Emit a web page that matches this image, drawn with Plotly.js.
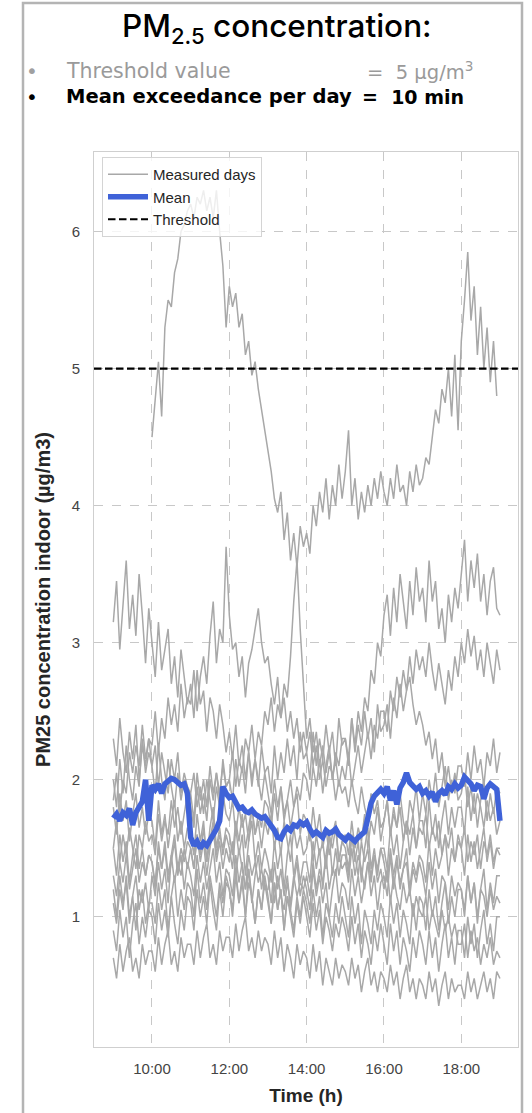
<!DOCTYPE html>
<html><head><meta charset="utf-8">
<script src="https://cdn.plot.ly/plotly-3.0.1.min.js"></script>
<style>html,body{margin:0;padding:0;background:#fff;}#chart{width:532px;height:1113px;}</style>
</head><body><div id="chart"></div>
<script>
// ---- sampling grid (one value every 5 minutes, 09:00 .. 19:00) ----
const DAY = '2024-01-01';
const startHour = 9;
const stepMin = 5;
const nPoints = 121;
const thresholdValue = 5;
const xRange = [DAY + ' 08:30:00', DAY + ' 19:28:00'];
const yRange = [0.05, 6.58];
const tickHours = ['10:00', '12:00', '14:00', '16:00', '18:00'];

// ---- measured days (µg/m3), rows = hours 9h..18h, 12 values each, then 19:00 ----
const day01 = [
 null,null,null,null,null,null,null,null,null,null,null,null,
 4.5,4.8,5.05,4.65,5.3,5.5,5.45,5.7,5.8,6.0,6.05,6.15,
 6.2,6.1,6.25,6.2,6.3,6.15,6.25,6.1,6.3,6.0,5.75,5.3,
 5.6,5.45,5.55,5.3,5.4,5.1,5.2,4.95,5.05,4.85,4.7,4.55,
 4.4,4.25,4.05,3.95,4.1,3.75,3.95,3.6,3.8,3.55,3.85,3.7,
 3.8,3.65,4.0,3.85,4.1,3.95,4.2,3.9,4.15,4.0,4.3,4.05,
 4.25,4.55,4.0,4.2,3.9,4.1,3.95,4.15,4.0,4.2,4.05,4.25,
 4.1,4.0,4.2,4.05,4.3,4.1,4.15,4.0,4.25,4.1,4.3,4.15,
 4.2,4.35,4.3,4.5,4.7,4.6,4.85,4.75,5.0,4.65,5.1,4.55,
 5.2,5.5,5.85,5.35,5.6,5.1,5.45,5.0,5.3,4.9,5.2,4.8,
 null];
const day02 = [
 3.15,3.45,2.95,3.3,3.6,3.1,3.35,3.05,3.5,3.2,2.85,3.25,
 3.0,2.75,3.15,2.8,2.95,3.1,2.7,2.9,2.6,2.95,2.75,2.55,
 2.7,2.45,2.8,2.55,2.65,2.35,2.6,2.5,2.3,2.55,2.4,2.2,
 2.35,2.15,2.4,2.1,2.25,2.0,2.2,1.95,2.15,2.0,1.85,2.05,
 1.9,1.75,2.0,1.8,1.95,1.7,1.85,1.65,1.8,1.9,1.6,1.75,
 1.7,1.55,1.8,1.6,1.75,1.5,1.65,1.45,1.6,1.7,1.4,1.55,
 1.5,1.35,1.6,1.45,1.3,1.55,1.4,1.5,1.25,1.45,1.35,1.5,
 1.4,1.25,1.5,1.3,1.45,1.2,1.35,1.4,1.15,1.35,1.25,1.4,
 1.3,1.15,1.4,1.2,1.35,1.1,1.3,1.25,1.05,1.3,1.15,1.25,
 1.2,1.05,1.3,1.1,1.25,0.95,1.2,1.15,1.0,1.2,1.05,1.15,
 1.1];
const day03 = [
 1.85,2.05,1.75,2.0,1.9,2.2,2.05,2.25,2.1,2.4,2.15,2.3,
 2.25,2.5,2.2,2.45,2.3,2.6,2.4,2.55,2.35,2.7,2.45,2.6,
 2.55,2.8,2.5,2.75,2.9,2.7,3.05,3.3,2.85,3.1,3.0,3.7,
 3.2,2.95,3.0,2.75,2.9,2.6,2.85,2.95,3.1,3.25,3.0,2.85,
 2.9,2.7,2.55,2.75,2.45,2.6,2.35,2.5,2.3,2.45,2.2,2.35,
 2.2,2.35,2.1,2.25,2.0,2.15,1.95,2.1,2.05,1.85,2.0,1.9,
 1.95,1.8,2.0,1.85,1.75,1.95,1.8,1.7,1.9,1.75,1.85,1.65,
 1.7,1.85,1.6,1.75,1.65,1.8,1.55,1.7,1.6,1.75,1.5,1.65,
 1.6,1.75,1.5,1.65,1.55,1.7,1.45,1.6,1.5,1.65,1.4,1.6,
 1.5,1.65,1.4,1.55,1.45,1.6,1.35,1.55,1.45,1.6,1.4,1.5,
 1.45];
const day04 = [
 1.3,1.15,1.4,1.25,1.45,1.2,1.35,1.5,1.25,1.4,1.3,1.45,
 1.4,1.25,1.5,1.35,1.55,1.3,1.45,1.6,1.35,1.5,1.4,1.55,
 1.5,1.35,1.6,1.45,1.65,1.4,1.55,1.7,1.45,1.6,1.5,1.65,
 1.6,1.45,1.7,1.55,1.75,1.5,1.65,1.8,1.6,1.75,1.65,1.85,
 1.8,1.65,1.9,1.7,1.95,1.75,1.85,2.0,1.8,1.95,1.85,2.05,
 2.0,1.85,2.1,1.95,2.15,1.9,2.1,2.25,2.0,2.2,2.1,2.3,
 2.3,2.15,2.45,2.25,2.5,2.35,2.6,2.5,2.8,2.7,3.0,2.9,
 3.2,3.35,3.05,3.4,3.15,3.5,3.3,3.1,3.45,3.2,3.55,3.3,
 3.4,3.15,3.6,3.3,3.45,3.1,3.25,3.0,3.35,3.15,3.4,3.25,
 3.5,3.75,3.3,3.6,3.4,3.65,3.3,3.5,3.2,3.45,3.55,3.25,
 3.2];
const day05 = [
 1.5,1.7,1.4,1.6,1.45,1.65,1.5,1.35,1.6,1.5,1.7,1.55,
 1.6,1.45,1.75,1.55,1.7,1.6,1.85,1.65,1.8,1.6,1.75,1.9,
 1.8,1.65,1.95,1.75,1.9,1.7,2.0,1.85,2.05,1.9,2.1,1.95,
 2.0,2.2,1.95,2.15,2.05,2.3,2.2,2.4,2.15,2.35,2.25,2.5,
 2.4,2.6,2.35,2.55,2.45,2.7,2.6,2.9,3.3,3.6,3.1,2.7,
 2.3,2.45,2.2,2.35,2.1,2.25,2.05,2.2,2.0,2.15,1.95,2.1,
 2.0,2.2,1.95,2.1,2.25,2.05,2.2,2.35,2.15,2.4,2.3,2.5,
 2.5,2.35,2.65,2.5,2.75,2.6,2.8,2.65,2.9,2.7,2.95,2.8,
 2.9,2.75,3.0,2.8,2.65,2.85,2.7,2.55,2.8,2.65,2.9,2.75,
 3.0,2.85,3.1,2.9,3.05,2.8,2.95,2.75,3.0,2.85,2.7,2.95,
 2.8];
const day06 = [
 2.0,1.8,2.15,1.9,2.25,2.0,1.85,2.1,1.95,2.3,2.05,2.2,
 2.1,1.9,2.25,2.0,1.85,2.15,1.95,1.8,2.05,1.85,2.0,1.75,
 1.9,1.7,2.05,1.85,2.0,1.8,2.1,1.9,2.05,1.85,2.15,1.95,
 2.0,1.85,2.15,1.95,2.1,1.9,2.2,2.0,2.15,1.95,2.25,2.05,
 2.1,1.9,2.25,2.0,2.2,2.05,2.3,2.1,2.25,2.0,2.35,2.15,
 2.2,2.0,2.35,2.1,2.3,2.15,2.4,2.2,2.35,2.1,2.45,2.25,
 2.3,2.1,2.45,2.2,2.4,2.25,2.5,2.3,2.45,2.2,2.55,2.35,
 2.4,2.55,2.3,2.6,2.45,2.7,2.5,2.65,2.75,2.55,2.4,2.5,
 2.4,2.25,2.35,2.15,2.3,2.05,2.2,1.95,2.1,1.9,2.05,1.85,
 1.9,2.05,1.8,1.95,1.75,1.9,1.8,1.65,1.85,1.7,1.8,1.6,
 1.7];
const day07 = [
 1.5,1.3,1.6,1.4,1.55,1.25,1.45,1.6,1.35,1.5,1.3,1.45,
 1.4,1.2,1.55,1.35,1.5,1.25,1.4,1.55,1.3,1.45,1.2,1.4,
 1.3,1.15,1.45,1.25,1.4,1.2,1.35,1.5,1.25,1.4,1.15,1.35,
 1.3,1.15,1.45,1.25,1.4,1.2,1.35,1.1,1.3,1.45,1.2,1.35,
 1.3,1.1,1.4,1.2,1.35,1.15,1.3,1.05,1.25,1.4,1.15,1.3,
 1.2,1.05,1.35,1.15,1.3,1.1,1.25,1.0,1.2,1.35,1.1,1.25,
 1.2,1.05,1.35,1.15,1.3,1.1,1.25,1.4,1.15,1.3,1.05,1.25,
 1.3,1.15,1.45,1.2,1.4,1.25,1.35,1.5,1.2,1.4,1.3,1.45,
 1.4,1.25,1.55,1.3,1.5,1.35,1.45,1.6,1.3,1.5,1.4,1.55,
 1.5,1.3,1.6,1.4,1.55,1.35,1.5,1.65,1.4,1.55,1.35,1.5,
 1.5];
const day08 = [
 1.2,1.0,1.3,1.1,1.25,0.95,1.15,1.3,1.05,1.2,0.95,1.1,
 1.1,0.95,1.25,1.05,1.2,0.9,1.15,1.3,1.0,1.2,1.05,1.25,
 1.2,1.0,1.35,1.1,1.25,1.05,1.3,1.15,1.0,1.25,1.1,1.3,
 1.2,1.05,1.35,1.1,1.3,1.0,1.25,1.15,0.95,1.2,1.05,1.25,
 1.1,0.95,1.25,1.05,1.2,0.9,1.15,1.05,0.9,1.15,1.0,1.2,
 1.1,0.95,1.2,1.0,1.15,0.85,1.1,1.0,0.85,1.1,0.95,1.15,
 1.0,0.85,1.15,0.95,1.1,0.8,1.05,0.95,0.8,1.05,0.9,1.1,
 1.0,0.85,1.15,0.95,1.1,0.85,1.05,0.95,0.8,1.1,0.9,1.15,
 1.1,0.9,1.2,1.0,1.15,0.9,1.1,1.25,0.95,1.15,1.0,1.2,
 1.2,1.0,1.3,1.1,1.25,1.0,1.2,1.35,1.05,1.25,1.1,1.3,
 1.3];
const day09 = [
 0.9,0.75,1.05,0.85,1.0,0.7,0.95,1.1,0.8,1.0,0.85,1.05,
 1.0,0.8,1.1,0.9,1.05,0.85,1.15,0.95,0.8,1.05,0.9,1.15,
 1.1,0.9,1.2,1.0,1.15,0.95,1.25,1.05,0.9,1.2,1.0,1.25,
 1.2,1.0,1.3,1.1,1.25,1.0,1.35,1.15,0.95,1.2,1.05,1.3,
 1.15,0.95,1.25,1.05,1.2,0.9,1.15,1.0,0.85,1.1,0.95,1.15,
 1.0,0.85,1.1,0.9,1.05,0.8,1.0,0.9,0.75,0.95,0.85,1.0,
 0.9,0.75,1.0,0.8,0.95,0.7,0.9,0.8,0.65,0.9,0.75,0.95,
 0.8,0.65,0.95,0.75,0.9,0.65,0.85,0.75,0.6,0.85,0.7,0.9,
 0.8,0.65,0.9,0.7,0.85,0.6,0.8,0.95,0.7,0.85,0.65,0.9,
 0.9,0.7,1.0,0.8,0.95,0.7,0.9,1.05,0.8,0.95,0.75,1.0,
 1.0];
const day10 = [
 0.7,0.55,0.8,0.6,0.75,0.85,0.6,0.7,0.55,0.8,0.65,0.75,
 0.75,0.6,0.85,0.65,0.8,0.9,0.65,0.75,0.6,0.85,0.7,0.8,
 0.8,0.65,0.9,0.7,0.85,0.95,0.7,0.8,0.65,0.9,0.75,0.85,
 0.85,0.7,0.95,0.75,0.9,1.0,0.75,0.85,0.7,0.9,0.75,0.85,
 0.8,0.65,0.9,0.7,0.85,0.6,0.8,0.7,0.55,0.8,0.65,0.75,
 0.7,0.55,0.8,0.6,0.75,0.5,0.7,0.6,0.5,0.7,0.55,0.65,
 0.6,0.5,0.7,0.55,0.65,0.45,0.6,0.7,0.5,0.6,0.45,0.6,
 0.55,0.45,0.65,0.5,0.6,0.4,0.55,0.65,0.45,0.55,0.4,0.55,
 0.5,0.4,0.6,0.45,0.55,0.35,0.5,0.6,0.4,0.55,0.45,0.5,
 0.5,0.4,0.6,0.45,0.55,0.4,0.5,0.6,0.45,0.55,0.4,0.6,
 0.55];
const day11 = [
 1.8,1.6,1.9,1.7,1.85,1.55,1.75,1.9,1.65,1.8,1.6,1.75,
 1.7,1.5,1.85,1.6,1.75,1.5,1.7,1.85,1.55,1.7,1.5,1.65,
 1.6,1.45,1.75,1.55,1.7,1.4,1.65,1.8,1.5,1.65,1.45,1.6,
 1.5,1.35,1.65,1.45,1.6,1.3,1.55,1.7,1.4,1.55,1.35,1.5,
 1.4,1.25,1.55,1.35,1.5,1.2,1.45,1.6,1.3,1.45,1.25,1.4,
 1.4,1.25,1.55,1.35,1.5,1.2,1.45,1.6,1.3,1.5,1.3,1.45,
 1.45,1.3,1.6,1.4,1.55,1.25,1.5,1.65,1.35,1.5,1.3,1.5,
 1.5,1.35,1.65,1.45,1.6,1.35,1.55,1.7,1.45,1.65,1.5,1.7,
 1.7,1.5,1.85,1.6,1.75,1.5,1.7,1.85,1.6,1.8,1.65,1.8,
 1.8,1.6,1.95,1.7,1.9,1.65,1.85,2.0,1.7,1.9,1.75,1.95,
 1.9];
const day12 = [
 2.3,2.1,2.45,2.2,2.05,2.35,2.15,2.4,2.0,2.25,2.1,2.3,
 2.1,2.25,1.95,2.2,2.05,1.9,2.15,2.0,2.2,1.9,2.05,1.95,
 1.9,2.05,1.8,1.95,1.75,2.0,1.85,1.7,1.95,1.8,1.9,1.75,
 1.7,1.85,1.6,1.8,1.65,1.75,1.55,1.8,1.6,1.7,1.5,1.7,
 1.6,1.75,1.5,1.65,1.45,1.7,1.55,1.4,1.65,1.5,1.6,1.45,
 1.5,1.65,1.4,1.6,1.45,1.55,1.35,1.6,1.5,1.65,1.4,1.55,
 1.6,1.45,1.7,1.5,1.65,1.55,1.75,1.5,1.7,1.6,1.8,1.55,
 1.7,1.85,1.6,1.8,1.65,1.9,1.7,1.6,1.85,1.75,1.95,1.7,
 1.9,1.75,2.0,1.85,2.05,1.8,1.95,2.1,1.85,2.0,1.9,2.1,
 2.1,1.95,2.2,2.0,2.25,2.05,2.15,1.95,2.2,2.1,2.3,2.05,
 2.2];
const day13 = [
 1.1,0.95,1.2,1.05,1.3,1.0,1.15,0.9,1.2,1.1,1.25,1.05,
 1.3,1.15,1.4,1.2,1.35,1.1,1.45,1.25,1.4,1.3,1.5,1.35,
 1.5,1.35,1.6,1.4,1.55,1.3,1.5,1.65,1.4,1.55,1.35,1.5,
 1.4,1.55,1.3,1.5,1.35,1.2,1.45,1.3,1.4,1.25,1.35,1.2,
 1.2,1.35,1.1,1.3,1.15,1.05,1.25,1.1,1.3,1.15,1.25,1.2,
 1.3,1.15,1.4,1.2,1.35,1.25,1.45,1.2,1.35,1.3,1.45,1.35,
 1.4,1.25,1.5,1.3,1.45,1.35,1.2,1.4,1.3,1.45,1.25,1.35,
 1.2,1.35,1.1,1.3,1.15,1.05,1.25,1.1,1.2,1.0,1.15,1.05,
 1.0,1.15,0.9,1.05,0.95,0.85,1.05,0.9,1.0,0.85,0.95,0.8,
 0.8,0.95,0.7,0.9,0.75,0.85,0.65,0.8,0.7,0.85,0.65,0.75,
 0.7];
const measuredDays = [day01, day02, day03, day04, day05, day06, day07, day08, day09, day10, day11, day12, day13];

// ---- mean over the measured days ----
const meanValues = [
 1.72,1.75,1.70,1.76,1.74,1.79,1.67,1.76,1.80,1.84,2.00,1.70,
 1.96,1.93,1.97,1.90,1.97,1.99,2.01,2.00,1.98,1.96,1.97,1.90,
 1.58,1.52,1.55,1.50,1.54,1.52,1.56,1.60,1.64,1.70,1.95,1.90,
 1.87,1.88,1.83,1.79,1.80,1.77,1.76,1.78,1.75,1.74,1.72,1.73,
 1.70,1.66,1.63,1.58,1.57,1.62,1.65,1.63,1.67,1.66,1.69,1.67,
 1.69,1.64,1.60,1.62,1.60,1.58,1.63,1.61,1.62,1.64,1.60,1.58,
 1.56,1.59,1.57,1.55,1.58,1.60,1.62,1.72,1.83,1.88,1.91,1.93,
 1.90,1.95,1.85,1.92,1.82,1.94,1.98,2.05,1.98,1.96,1.93,1.95,
 1.90,1.92,1.88,1.91,1.84,1.90,1.92,1.89,1.95,1.93,1.97,1.94,
 1.96,2.02,2.00,1.97,1.92,1.96,1.95,1.86,1.94,1.97,1.95,1.93,
 1.70];

// ---- build the time grid ----
const times = [];
for (let i = 0; i < nPoints; i++) {
  const m = startHour * 60 + i * stepMin;
  const hh = String(Math.floor(m / 60)).padStart(2, '0');
  const mm = String(m % 60).padStart(2, '0');
  times.push(DAY + ' ' + hh + ':' + mm + ':00');
}

const GRAY = '#a8a8a8';
const traces = measuredDays.map((d, i) => ({
  type: 'scatter', mode: 'lines', x: times, y: d,
  line: {color: GRAY, width: 1.5},
  name: 'Measured days', legendgroup: 'days', showlegend: i === 0,
  connectgaps: false, hoverinfo: 'skip'
}));
traces.push({
  type: 'scatter', mode: 'lines', x: times, y: meanValues,
  line: {color: '#3f62d8', width: 5.5}, name: 'Mean', hoverinfo: 'skip'
});
traces.push({
  type: 'scatter', mode: 'lines', x: xRange, y: [thresholdValue, thresholdValue],
  line: {color: '#000000', width: 2.2, dash: '7.5px,3.5px'}, name: 'Threshold', hoverinfo: 'skip'
});

// pixel helpers for the annotations around the plot
const M = {l: 94, r: 14, t: 152, b: 66};
const W = 532, H = 1113;
const px = x => (x - M.l) / (W - M.l - M.r);
const py = y => (H - M.b - y) / (H - M.t - M.b);

const FONT = 'Liberation Sans, Arial, sans-serif';
const TFONT = 'DejaVu Sans, sans-serif';

const layout = {
  width: W, height: H, margin: M,
  paper_bgcolor: '#ffffff', plot_bgcolor: '#ffffff',
  showlegend: true,
  legend: {
    x: px(102), y: py(157), xanchor: 'left', yanchor: 'top',
    bgcolor: 'rgba(255,255,255,0.8)', bordercolor: '#d4d4d4', borderwidth: 1,
    font: {family: FONT, size: 15, color: '#262626'}, traceorder: 'normal',
    itemwidth: 40
  },
  xaxis: {
    type: 'date', range: xRange,
    tickvals: tickHours.map(h => DAY + ' ' + h + ':00'), ticktext: tickHours,
    showgrid: true, gridcolor: '#c8c8c8', griddash: 'dash', gridwidth: 1,
    showline: true, mirror: true, linecolor: '#cfcfcf', linewidth: 1,
    zeroline: false, ticks: '', ticklabelstandoff: 8,
    tickfont: {family: FONT, size: 15, color: '#444444'},
    title: {text: 'Time (h)', font: {family: FONT, size: 19, color: '#262626', weight: 'bold'}, standoff: 12}
  },
  yaxis: {
    range: yRange, dtick: 1, tick0: 0,
    showgrid: true, gridcolor: '#c8c8c8', griddash: 'dash', gridwidth: 1,
    showline: true, mirror: true, linecolor: '#cfcfcf', linewidth: 1,
    zeroline: false, ticks: '', ticklabelstandoff: 10,
    tickfont: {family: FONT, size: 15, color: '#444444'},
    title: {text: 'PM25 concentration indoor (µg/m3)', font: {family: FONT, size: 20, color: '#262626', weight: 'bold'}, standoff: 15}
  },
  shapes: [{
    type: 'rect', xref: 'paper', yref: 'paper', layer: 'above',
    x0: px(23), x1: px(522), y0: py(1130), y1: py(3),
    line: {color: '#b4b4b4', width: 2.5}, fillcolor: 'rgba(0,0,0,0)'
  }],
  annotations: [
    {xref: 'paper', yref: 'paper', x: px(277), y: py(28), xanchor: 'center', yanchor: 'middle', showarrow: false,
     text: 'PM<sub>2.5</sub> concentration:', font: {family: 'Inter, DejaVu Sans, sans-serif', size: 31.5, color: '#000000', weight: 500}},
    {xref: 'paper', yref: 'paper', x: px(32), y: py(71), xanchor: 'center', yanchor: 'middle', showarrow: false,
     text: '•', font: {family: TFONT, size: 20, color: '#a0a0a0'}},
    {xref: 'paper', yref: 'paper', x: px(64), y: py(71), xanchor: 'left', yanchor: 'middle', showarrow: false,
     text: 'Threshold value', font: {family: TFONT, size: 20.5, color: '#9a9a9a'}},
    {xref: 'paper', yref: 'paper', x: px(365), y: py(71), xanchor: 'left', yanchor: 'middle', showarrow: false,
     text: '=  5 µg/m<sup>3</sup>', font: {family: TFONT, size: 19.5, color: '#9a9a9a'}},
    {xref: 'paper', yref: 'paper', x: px(32), y: py(97), xanchor: 'center', yanchor: 'middle', showarrow: false,
     text: '•', font: {family: TFONT, size: 20, color: '#000000'}},
    {xref: 'paper', yref: 'paper', x: px(64), y: py(97), xanchor: 'left', yanchor: 'middle', showarrow: false,
     text: '<b>Mean exceedance per day</b>', font: {family: TFONT, size: 19.5, color: '#000000'}},
    {xref: 'paper', yref: 'paper', x: px(360), y: py(97), xanchor: 'left', yanchor: 'middle', showarrow: false,
     text: '<b>=  10 min</b>', font: {family: TFONT, size: 19, color: '#000000'}}
  ]
};

Plotly.newPlot('chart', traces, layout, {staticPlot: true, displayModeBar: false});
</script>
</body></html>
